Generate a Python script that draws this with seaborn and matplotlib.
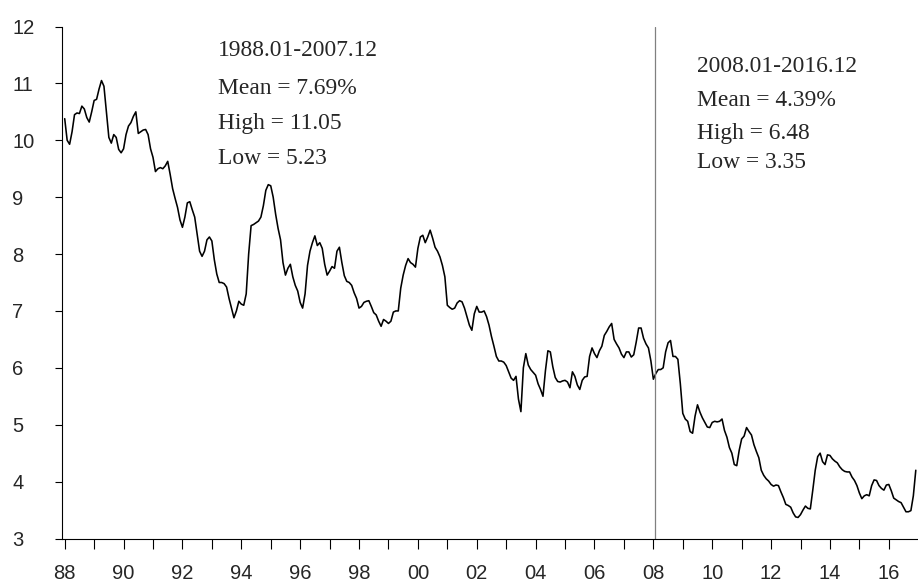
import matplotlib
matplotlib.use('Agg')
import matplotlib.pyplot as plt
import numpy as np
import pandas as pd
import seaborn as sns

# monthly rate (%), one list per year, 1988.01 - 2016.12
y1988 = [10.38, 10.00, 9.93, 10.15, 10.45, 10.48, 10.47, 10.60, 10.55, 10.40, 10.32, 10.50]
y1989 = [10.70, 10.72, 10.90, 11.05, 10.95, 10.50, 10.05, 9.95, 10.10, 10.05, 9.84, 9.78]
y1990 = [9.85, 10.10, 10.25, 10.31, 10.42, 10.50, 10.12, 10.15, 10.18, 10.19, 10.10, 9.85]
y1991 = [9.70, 9.45, 9.50, 9.52, 9.50, 9.55, 9.63, 9.40, 9.15, 8.98, 8.82, 8.60]
y1992 = [8.47, 8.65, 8.90, 8.92, 8.78, 8.65, 8.35, 8.05, 7.96, 8.05, 8.25, 8.30]
y1993 = [8.23, 7.90, 7.65, 7.50, 7.50, 7.48, 7.42, 7.22, 7.05, 6.88, 7.00, 7.17]
y1994 = [7.12, 7.10, 7.30, 8.00, 8.50, 8.52, 8.55, 8.58, 8.65, 8.85, 9.12, 9.22]
y1995 = [9.20, 9.00, 8.70, 8.45, 8.25, 7.85, 7.63, 7.75, 7.82, 7.60, 7.45, 7.35]
y1996 = [7.15, 7.05, 7.30, 7.80, 8.05, 8.20, 8.32, 8.15, 8.20, 8.10, 7.82, 7.63]
y1997 = [7.70, 7.78, 7.75, 8.05, 8.12, 7.85, 7.62, 7.52, 7.50, 7.45, 7.32, 7.22]
y1998 = [7.05, 7.08, 7.15, 7.17, 7.18, 7.08, 6.97, 6.93, 6.82, 6.73, 6.85, 6.82]
y1999 = [6.78, 6.82, 6.98, 7.00, 7.00, 7.40, 7.63, 7.80, 7.92, 7.85, 7.82, 7.77]
y2000 = [8.10, 8.30, 8.33, 8.20, 8.30, 8.42, 8.28, 8.12, 8.05, 7.95, 7.80, 7.60]
y2001 = [7.10, 7.06, 7.03, 7.05, 7.14, 7.18, 7.16, 7.05, 6.90, 6.75, 6.66, 6.95]
y2002 = [7.08, 6.98, 6.98, 7.00, 6.90, 6.75, 6.55, 6.38, 6.20, 6.12, 6.12, 6.10]
y2003 = [6.04, 5.93, 5.82, 5.78, 5.85, 5.45, 5.23, 6.00, 6.25, 6.05, 5.97, 5.92]
y2004 = [5.87, 5.72, 5.62, 5.50, 5.95, 6.30, 6.28, 6.02, 5.83, 5.76, 5.75, 5.77]
y2005 = [5.78, 5.75, 5.65, 5.93, 5.85, 5.70, 5.62, 5.78, 5.84, 5.85, 6.20, 6.35]
y2006 = [6.25, 6.18, 6.30, 6.38, 6.57, 6.64, 6.72, 6.78, 6.50, 6.42, 6.35, 6.24]
y2007 = [6.18, 6.28, 6.28, 6.19, 6.23, 6.45, 6.70, 6.70, 6.52, 6.42, 6.35, 6.12]
y2008 = [5.80, 5.90, 5.97, 5.97, 6.00, 6.28, 6.44, 6.48, 6.20, 6.20, 6.15, 5.72]
y2009 = [5.20, 5.10, 5.06, 4.88, 4.85, 5.15, 5.35, 5.22, 5.12, 5.04, 4.96, 4.95]
y2010 = [5.04, 5.06, 5.05, 5.06, 5.10, 4.90, 4.78, 4.60, 4.50, 4.30, 4.28, 4.55]
y2011 = [4.75, 4.80, 4.95, 4.88, 4.82, 4.65, 4.53, 4.42, 4.20, 4.11, 4.05, 4.01]
y2012 = [3.95, 3.92, 3.94, 3.93, 3.82, 3.72, 3.60, 3.58, 3.55, 3.45, 3.38, 3.37]
y2013 = [3.42, 3.50, 3.57, 3.53, 3.52, 3.85, 4.20, 4.44, 4.50, 4.35, 4.30, 4.47]
y2014 = [4.46, 4.40, 4.36, 4.33, 4.26, 4.21, 4.18, 4.17, 4.17, 4.08, 4.02, 3.93]
y2015 = [3.80, 3.70, 3.75, 3.77, 3.75, 3.93, 4.03, 4.02, 3.93, 3.88, 3.85, 3.94]
y2016 = [3.95, 3.84, 3.71, 3.68, 3.65, 3.63, 3.55, 3.47, 3.47, 3.49, 3.75, 4.20]

rate = (y1988 + y1989 + y1990 + y1991 + y1992 + y1993 + y1994 + y1995 + y1996
        + y1997 + y1998 + y1999 + y2000 + y2001 + y2002 + y2003 + y2004 + y2005
        + y2006 + y2007 + y2008 + y2009 + y2010 + y2011 + y2012 + y2013 + y2014
        + y2015 + y2016)

# one tick per January, label every second year
year_labels = ['88', '', '90', '', '92', '', '94', '', '96', '', '98', '', '00', '',
               '02', '', '04', '', '06', '', '08', '', '10', '', '12', '', '14', '', '16']
y_ticks = [3, 4, 5, 6, 7, 8, 9, 10, 11, 12]
break_month = 240  # 2008.01

stats_before = ['1988.01-2007.12', 'Mean = 7.69%', 'High = 11.05', 'Low = 5.23']
stats_after = ['2008.01-2016.12', 'Mean = 4.39%', 'High = 6.48', 'Low = 3.35']

df = pd.DataFrame({'month': np.arange(len(rate)), 'rate': rate})

sns.set_style('ticks')
plt.rcParams['font.family'] = ['Liberation Sans', 'DejaVu Sans']

W, H = 918, 583
fig = plt.figure(figsize=(W / 100, H / 100), dpi=100)
ax = fig.add_axes([62.3 / W, 1 - 538.5 / H, (W - 62.3) / W, (538.5 - 26.5) / H])

sns.lineplot(data=df, x='month', y='rate', ax=ax, color='black', linewidth=1.15)
ax.axvline(break_month + 0.6, color='#808080', linewidth=0.9)

ax.set_xlim(-0.98, 347.9)
ax.set_ylim(3, 12)
ax.set_xlabel('')
ax.set_ylabel('')

ax.set_xticks(np.arange(0, len(rate), 12))
ax.set_xticklabels(year_labels)
ax.set_yticks(y_ticks)
ax.set_yticklabels([str(v) for v in y_ticks])
for lab in ax.get_yticklabels():
    lab.set_horizontalalignment('left')

ax.tick_params(axis='x', direction='out', length=7.2, width=0.8, pad=11,
               labelsize=14.5, color='black')
ax.tick_params(axis='y', direction='out', length=5.0, width=0.8, pad=31.2,
               labelsize=14.5, color='black')

sns.despine(ax=ax, top=True, right=True)
for side in ['left', 'bottom']:
    ax.spines[side].set_color('black')
    ax.spines[side].set_linewidth(0.8)

serif = ['Liberation Serif', 'DejaVu Serif']
for s, ypix in zip(stats_before, [51, 88, 124, 159]):
    fig.text(218 / W, 1 - ypix / H, s, family=serif, fontsize=16.9,
             ha='left', va='center')
for s, ypix in zip(stats_after, [67, 101, 134, 162]):
    fig.text(697 / W, 1 - ypix / H, s, family=serif, fontsize=16.9,
             ha='left', va='center')

fig.savefig('out.png', dpi=100)
